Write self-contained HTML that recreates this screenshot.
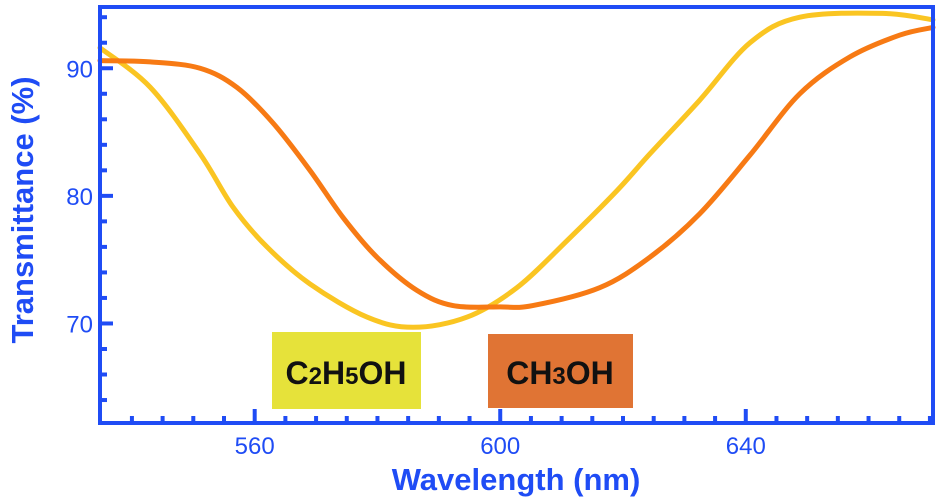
<!DOCTYPE html>
<html><head><meta charset="utf-8">
<style>
html,body{margin:0;padding:0;background:#fff;}
svg{display:block;font-family:"Liberation Sans",Arial,sans-serif;}
</style></head>
<body>
<svg id="chart" width="940" height="499" viewBox="0 0 940 499">
  <g id="boxes"></g>
  <g id="series"></g>
  <g id="axes"></g>
</svg>
<script>
const xTicks = [560, 600, 640];
const yTicks = [70, 80, 90];
const wavelengthsEthanol = [534.8,543.0,551.1,556.5,562.0,569.0,578.3,585.8,594.6,602.7,610.9,619.0,624.4,632.5,640.7,648.8,662.3,670.5];
const transEthanol = [91.6,88.5,83.3,79.1,76.0,73.1,70.5,69.7,70.5,72.8,76.5,80.4,83.3,87.5,92.0,94.0,94.3,93.8];
const wavelengthsMethanol = [534.8,543.0,551.1,557.1,563.0,569.0,574.4,579.9,586.4,592.3,600.0,605.3,616.2,624.4,632.5,640.7,648.8,657.0,665.1,670.5];
const transMethanol = [90.6,90.5,90.0,88.5,85.7,82.0,78.3,75.2,72.6,71.4,71.3,71.4,72.8,75.2,78.6,83.2,88.0,90.9,92.6,93.2];

const L=100,R=933,T=7,B=423;
const X0=534.8,X1=670.5,Y0=62.2,Y1=94.8;
const sx=v=>L+(v-X0)/(X1-X0)*(R-L);
const sy=v=>B-(v-Y0)/(Y1-Y0)*(B-T);
const NS='http://www.w3.org/2000/svg';
function mk(tag,attrs,parent){const e=document.createElementNS(NS,tag);for(const k in attrs)e.setAttribute(k,attrs[k]);parent.appendChild(e);return e;}

const boxes=document.getElementById('boxes');
const b1=mk('rect',{x:272,y:332,width:149,height:77,fill:'#e6e23a'},boxes);


const t1=mk('text',{x:346,y:384,'text-anchor':'middle','font-size':32,'font-weight':'bold',fill:'#111'},boxes);


t1.innerHTML='C<tspan font-size="24">2</tspan>H<tspan font-size="24">5</tspan>OH';
const b2=mk('rect',{x:488,y:334,width:145,height:74,fill:'#e07434'},boxes);


const t2=mk('text',{x:560,y:384,'text-anchor':'middle','font-size':32,'font-weight':'bold',fill:'#111'},boxes);


t2.innerHTML='CH<tspan font-size="24">3</tspan>OH';

function pathFor(xs,ys){
  const p=xs.map((x,i)=>[sx(x),sy(ys[i])]);
  let d='M'+p[0][0]+','+p[0][1];
  for(let i=0;i<p.length-1;i++){
    const p0=p[Math.max(0,i-1)],p1=p[i],p2=p[i+1],p3=p[Math.min(p.length-1,i+2)];
    const c1=[p1[0]+(p2[0]-p0[0])/6,p1[1]+(p2[1]-p0[1])/6];
    const c2=[p2[0]-(p3[0]-p1[0])/6,p2[1]-(p3[1]-p1[1])/6];
    d+=` C${c1[0]},${c1[1]} ${c2[0]},${c2[1]} ${p2[0]},${p2[1]}`;
  }
  return d;
}
const series=document.getElementById('series');
const s1=mk('path',{d:pathFor(wavelengthsEthanol,transEthanol),fill:'none',stroke:'#fac522','stroke-width':5,'stroke-linecap':'round'},series);


const s2=mk('path',{d:pathFor(wavelengthsMethanol,transMethanol),fill:'none',stroke:'#f77a14','stroke-width':5,'stroke-linecap':'round'},series);



const axes=document.getElementById('axes');
const blue='#1f4cf5';
const frame=mk('rect',{x:L,y:T,width:R-L,height:B-T,fill:'none',stroke:blue,'stroke-width':4},axes);


for(let v=540;v<=670;v+=5){
  const major=xTicks.includes(v);
  const tk=mk('line',{x1:sx(v),x2:sx(v),y1:B,y2:B-(major?14:7),stroke:blue,'stroke-width':4},axes);
  
  
}
for(let v=64;v<=94;v+=2){
  const major=yTicks.includes(v);
  const tk=mk('line',{x1:L,x2:L+(major?13:7),y1:sy(v),y2:sy(v),stroke:blue,'stroke-width':4},axes);
  
  
}
xTicks.forEach(v=>{
  const t=mk('text',{x:sx(v),y:454,'text-anchor':'middle','font-size':24,fill:blue},axes);
  
  
  t.textContent=v;
});
yTicks.forEach(v=>{
  const t=mk('text',{x:93,y:sy(v)+9,'text-anchor':'end','font-size':24,fill:blue},axes);
  
  
  t.textContent=v;
});
const xt=mk('text',{x:516,y:490,'text-anchor':'middle','font-size':31,'font-weight':'bold',fill:blue},axes);


xt.textContent='Wavelength (nm)';
const yt=mk('text',{x:0,y:0,'text-anchor':'middle','font-size':31,'font-weight':'bold',fill:blue,transform:'translate(33,210) rotate(-90)'},axes);


yt.textContent='Transmittance (%)';
</script>
</body></html>
